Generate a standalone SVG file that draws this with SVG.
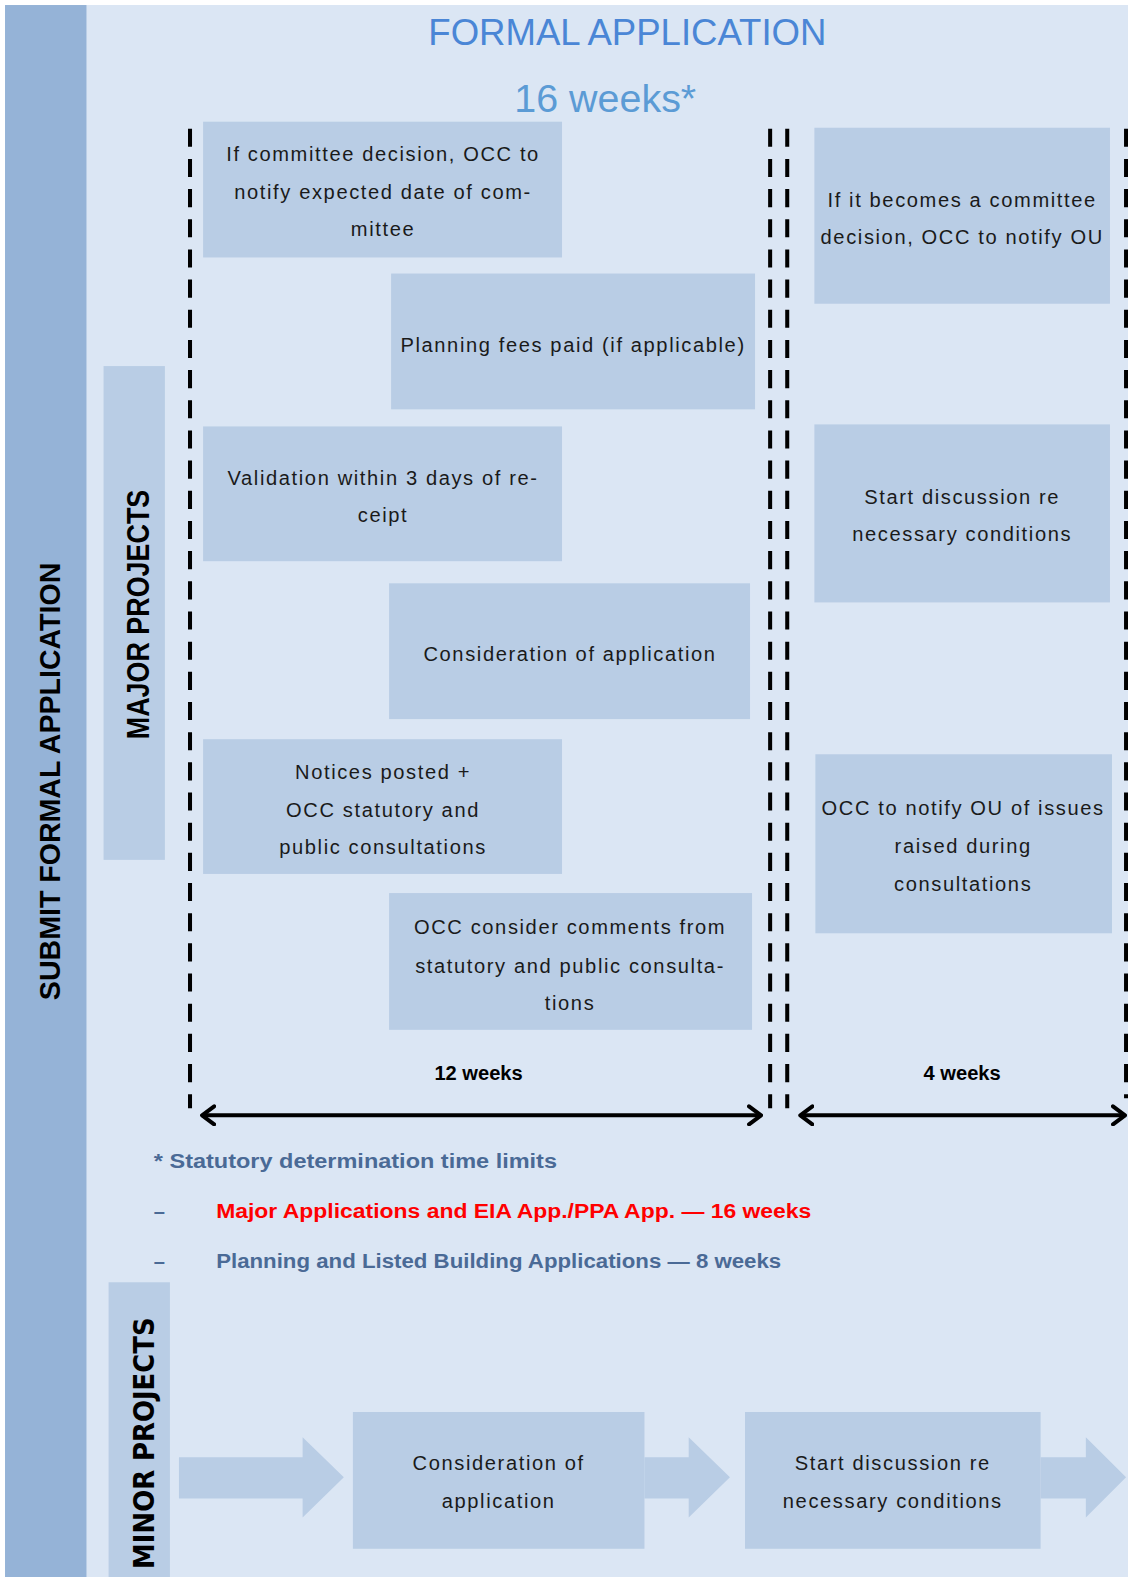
<svg xmlns="http://www.w3.org/2000/svg" width="1128" height="1577" viewBox="0 0 1128 1577">
<defs>
<style>
.box{fill:#b9cde5}
.t{font-family:"Liberation Sans",Arial,sans-serif;font-size:20px;fill:#1a1a1a;text-anchor:middle;letter-spacing:1.6px}
.dash{stroke:#000;stroke-width:4;stroke-dasharray:18 12;fill:none}
.dim{stroke:#000;stroke-width:4;fill:none}
.bold{font-family:"Liberation Sans",Arial,sans-serif;font-weight:bold;font-size:20px;fill:#000;text-anchor:middle}
.note{font-family:"Liberation Sans",Arial,sans-serif;font-weight:bold;font-size:20px}
</style>
<marker id="chev" viewBox="0 0 16 22" refX="14" refY="11" markerWidth="16" markerHeight="22" markerUnits="userSpaceOnUse" orient="auto-start-reverse">
<path d="M2,2 L14,11 L2,20" fill="none" stroke="#000" stroke-width="4" stroke-linecap="round" stroke-linejoin="round"/>
</marker>
</defs>
<rect x="0" y="0" width="1128" height="1577" fill="#ffffff"/>
<g transform="scale(1.0054,1.0057)">
<rect x="5" y="5" width="1117" height="1568" fill="#dbe6f4"/>
<g id="submit-bar">
<rect x="5" y="5" width="81" height="1568" fill="#95b3d7"/>
<text transform="translate(60,777) rotate(-90)" font-family="Liberation Sans,Arial,sans-serif" font-weight="bold" font-size="29" fill="#000" text-anchor="middle" textLength="435" lengthAdjust="spacingAndGlyphs">SUBMIT FORMAL APPLICATION</text>
</g>
<g id="title">
<text x="624" y="45" font-family="Liberation Sans,Arial,sans-serif" font-size="37" fill="#4a86d6" text-anchor="middle" textLength="396" lengthAdjust="spacingAndGlyphs">FORMAL APPLICATION</text>
<text x="602" y="111" font-family="Liberation Sans,Arial,sans-serif" font-size="38" fill="#5b9bd5" text-anchor="middle" textLength="181" lengthAdjust="spacingAndGlyphs">16 weeks*</text>
</g>
<g id="major-label">
<rect x="103" y="364" width="61" height="491" class="box"/>
<text transform="translate(148,611) rotate(-90)" font-family="Liberation Sans,Arial,sans-serif" font-weight="bold" font-size="31" fill="#000" text-anchor="middle" textLength="248" lengthAdjust="spacingAndGlyphs">MAJOR PROJECTS</text>
</g>
<g id="connectors">
<line x1="189" y1="128" x2="189" y2="1102" class="dash"/>
<line x1="766" y1="128" x2="766" y2="1102" class="dash"/>
<line x1="783" y1="128" x2="783" y2="1102" class="dash"/>
<line x1="1120" y1="128" x2="1120" y2="1092" class="dash"/>
<line x1="201" y1="1109" x2="757" y2="1109" class="dim" marker-start="url(#chev)" marker-end="url(#chev)"/>
<line x1="796" y1="1109" x2="1119" y2="1109" class="dim" marker-start="url(#chev)" marker-end="url(#chev)"/>
<polygon points="178,1449 301,1449 301,1429 342,1469 301,1509 301,1490 178,1490" fill="#b9cde5"/>
<polygon points="641,1449 685,1449 685,1429 726,1469 685,1509 685,1490 641,1490" fill="#b9cde5"/>
<polygon points="1035,1449 1080,1449 1080,1429 1120,1469 1080,1509 1080,1490 1035,1490" fill="#b9cde5"/>
</g>
<g id="n1"><rect x="202" y="121" width="357" height="135" class="box"/>
<text class="t" x="381" y="160">If committee decision, OCC to</text>
<text class="t" x="381" y="198">notify expected date of com-</text>
<text class="t" x="381" y="235">mittee</text></g>
<g id="n2"><rect x="389" y="272" width="362" height="135" class="box"/>
<text class="t" x="570" y="350">Planning fees paid (if applicable)</text></g>
<g id="n3"><rect x="202" y="424" width="357" height="134" class="box"/>
<text class="t" x="381" y="482">Validation within 3 days of re-</text>
<text class="t" x="381" y="519">ceipt</text></g>
<g id="n4"><rect x="387" y="580" width="359" height="135" class="box"/>
<text class="t" x="567" y="657">Consideration of application</text></g>
<g id="n5"><rect x="202" y="735" width="357" height="134" class="box"/>
<text class="t" x="381" y="775">Notices posted +</text>
<text class="t" x="381" y="812">OCC statutory and</text>
<text class="t" x="381" y="849">public consultations</text></g>
<g id="n6"><rect x="387" y="888" width="361" height="136" class="box"/>
<text class="t" x="567" y="929">OCC consider comments from</text>
<text class="t" x="567" y="967">statutory and public consulta-</text>
<text class="t" x="567" y="1004">tions</text></g>
<g id="n7"><rect x="810" y="127" width="294" height="175" class="box"/>
<text class="t" x="957" y="206">If it becomes a committee</text>
<text class="t" x="957" y="243">decision, OCC to notify OU</text></g>
<g id="n8"><rect x="810" y="422" width="294" height="177" class="box"/>
<text class="t" x="957" y="501">Start discussion re</text>
<text class="t" x="957" y="538">necessary conditions</text></g>
<g id="n9"><rect x="811" y="750" width="295" height="178" class="box"/>
<text class="t" x="958" y="810">OCC to notify OU of issues</text>
<text class="t" x="958" y="848">raised during</text>
<text class="t" x="958" y="886">consultations</text></g>
<g id="durations">
<text class="bold" x="476" y="1074">12 weeks</text>
<text class="bold" x="957" y="1074">4 weeks</text>
</g>
<g id="notes">
<text class="note" x="153" y="1161" fill="#4a6a96" textLength="401" lengthAdjust="spacingAndGlyphs">* Statutory determination time limits</text>
<text class="note" x="153" y="1211" fill="#4a6a96">–</text>
<text class="note" x="215" y="1211" fill="#ff0000" textLength="592" lengthAdjust="spacingAndGlyphs">Major Applications and EIA App./PPA App. — 16 weeks</text>
<text class="note" x="153" y="1261" fill="#4a6a96">–</text>
<text class="note" x="215" y="1261" fill="#4a6a96" textLength="562" lengthAdjust="spacingAndGlyphs">Planning and Listed Building Applications — 8 weeks</text>
</g>
<g id="minor-label">
<rect x="108" y="1275" width="61" height="298" class="box"/>
<text transform="translate(153,1435) rotate(-90)" font-family="DejaVu Sans,Verdana,sans-serif" font-weight="bold" font-size="28" fill="#000" text-anchor="middle" textLength="250" lengthAdjust="spacingAndGlyphs">MINOR PROJECTS</text>
</g>
<g id="m1"><rect x="351" y="1404" width="290" height="136" class="box"/>
<text class="t" x="496" y="1462">Consideration of</text>
<text class="t" x="496" y="1499">application</text></g>
<g id="m2"><rect x="741" y="1404" width="294" height="136" class="box"/>
<text class="t" x="888" y="1462">Start discussion re</text>
<text class="t" x="888" y="1499">necessary conditions</text></g>
</g>
</svg>
